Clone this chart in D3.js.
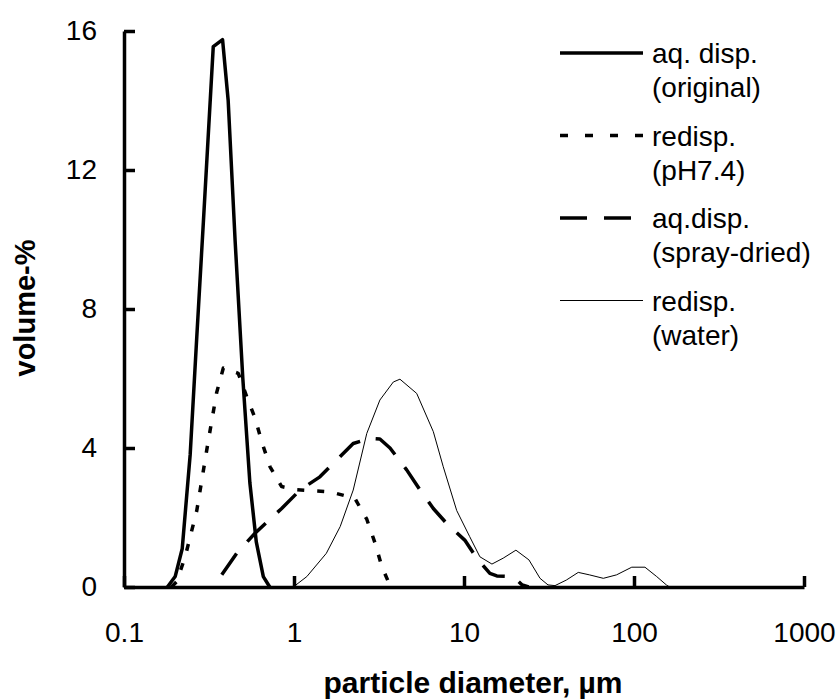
<!DOCTYPE html>
<html>
<head>
	<meta charset="utf-8">
	<title>Particle size distribution</title>
	<script src="https://cdn.jsdelivr.net/npm/d3@7"></script>
	<style>
		body { margin: 0; background: #fff; font-family: Arial, "Liberation Sans", Helvetica, sans-serif; }
	</style>
</head>
<body>
	<div id="chart"></div>
	<script>

	// data
	const origX  = [0.18, 0.2, 0.22, 0.245, 0.268, 0.293, 0.335, 0.38, 0.41, 0.45, 0.5, 0.55, 0.6, 0.66, 0.72];
	const origY  = [0, 0.3, 1.1, 3.8, 7.2, 10.5, 15.55, 15.75, 14.0, 10.0, 6.0, 3.0, 1.3, 0.3, 0];

	const phX    = [0.19, 0.204, 0.229, 0.268, 0.313, 0.351, 0.384, 0.47, 0.527, 0.59, 0.646, 0.723, 0.846, 1.04, 1.63, 2.28, 2.68, 3.0, 3.28, 3.7];
	const phY    = [0, 0.15, 0.87, 2.2, 4.2, 5.6, 6.3, 6.15, 5.48, 4.86, 4.18, 3.46, 2.89, 2.8, 2.74, 2.55, 1.95, 1.26, 0.6, 0];

	const sprayX = [0.376, 0.46, 0.59, 0.846, 1.085, 1.42, 1.78, 2.23, 2.8, 3.2, 3.67, 4.6, 5.5, 6.6, 7.9, 10.1, 11.9, 14.2, 15.6, 19.5, 22, 24];
	const sprayY = [0.35, 0.97, 1.55, 2.26, 2.79, 3.17, 3.65, 4.13, 4.28, 4.26, 4.0, 3.37, 2.8, 2.26, 1.83, 1.35, 0.83, 0.39, 0.32, 0.3, 0.06, 0];

	const waterX = [0.99, 1.19, 1.55, 1.87, 2.23, 2.68, 3.2, 3.84, 4.2, 5.27, 6.6, 7.55, 9.06, 10.8, 12.4, 14.6, 17.0, 20.2, 24.1, 28, 31.2, 34.3, 40, 47, 54.6, 66, 79, 97, 116, 136, 155, 162];
	const waterY = [0, 0.3, 0.97, 1.74, 2.79, 4.42, 5.38, 5.9, 5.98, 5.57, 4.47, 3.46, 2.2, 1.45, 0.87, 0.66, 0.83, 1.06, 0.78, 0.25, 0.06, 0.04, 0.2, 0.42, 0.35, 0.25, 0.35, 0.57, 0.57, 0.3, 0.06, 0];

	const seriesNames = [["aq. disp.", "(original)"], ["redisp.", "(pH7.4)"], ["aq.disp.", "(spray-dried)"], ["redisp.", "(water)"]];
	const xTicks      = [0.1, 1, 10, 100, 1000];
	const xTickLabels = ["0.1", "1", "10", "100", "1000"];
	const yTicks      = [0, 4, 8, 12, 16];
	const xTitle      = "particle diameter, \u00b5m";
	const yTitle      = "volume-%";

	// styling
	const width  = 838;
	const height = 700;
	const font   = "Arial, 'Liberation Sans', sans-serif";
	const styles = [
		{ width: 3.5, dash: null,    legendDash: null },
		{ width: 3.5, dash: "7,13",  legendDash: "8,17" },
		{ width: 3.5, dash: "26,16", legendDash: "27,17" },
		{ width: 1,   dash: null,    legendDash: null }
	];

	const series = [
		d3.zip(origX, origY),
		d3.zip(phX, phY),
		d3.zip(sprayX, sprayY),
		d3.zip(waterX, waterY)
	];

	const x = d3.scaleLog().domain([0.1, 1000]).range([124, 804]);
	const y = d3.scaleLinear().domain([0, 16]).range([587, 31]);

	const svg = d3.select("#chart").append("svg")
		.attr("width", width)
		.attr("height", height)
		.attr("viewBox", [0, 0, width, height])
		.style("font-family", font);

	const xAxis = d3.axisBottom(x)
		.tickValues(xTicks)
		.tickFormat((d, i) => xTickLabels[i])
		.tickSizeInner(-11)
		.tickSizeOuter(0)
		.tickPadding(35);

	const yAxis = d3.axisLeft(y)
		.tickValues(yTicks)
		.tickSizeInner(-11)
		.tickSizeOuter(0)
		.tickPadding(27);

	svg.append("g")
		.attr("transform", `translate(0,${y(0)})`)
		.call(xAxis)
		.call(g => g.selectAll("path, line").attr("stroke", "#000").attr("stroke-width", 3.5))
		.call(g => g.selectAll("text").attr("fill", "#000")
			.style("font-size", "28px").style("font-family", font));

	svg.append("g")
		.attr("transform", `translate(${x(0.1)},0)`)
		.call(yAxis)
		.call(g => g.selectAll("path, line").attr("stroke", "#000").attr("stroke-width", 3.5))
		.call(g => g.selectAll("text").attr("fill", "#000")
			.style("font-size", "28px").style("font-family", font));

	const line = d3.line()
		.x(d => x(d[0]))
		.y(d => y(d[1]));

	svg.append("g")
		.selectAll("path")
		.data(series)
		.join("path")
		.attr("fill", "none")
		.attr("stroke", "#000")
		.attr("stroke-width", (d, i) => styles[i].width)
		.attr("stroke-dasharray", (d, i) => styles[i].dash)
		.attr("stroke-linejoin", "round")
		.attr("d", line);

	// axis titles
	svg.append("text")
		.attr("x", 473)
		.attr("y", 693)
		.attr("text-anchor", "middle")
		.style("font-size", "30px")
		.style("font-weight", "bold")
		.text(xTitle);

	svg.append("text")
		.attr("transform", `translate(35,308) rotate(-90)`)
		.attr("text-anchor", "middle")
		.style("font-size", "29px")
		.style("font-weight", "bold")
		.text(yTitle);

	// legend
	const legend = svg.append("g")
		.selectAll("g")
		.data(seriesNames)
		.join("g")
		.attr("transform", (d, i) => `translate(560,${53 + i * 82.5})`);

	legend.append("line")
		.attr("x1", 0).attr("x2", 83)
		.attr("stroke", "#000")
		.attr("stroke-width", (d, i) => styles[i].width)
		.attr("stroke-dasharray", (d, i) => styles[i].legendDash);

	legend.append("text")
		.attr("y", 10)
		.style("font-size", "28px")
		.selectAll("tspan")
		.data(d => d)
		.join("tspan")
		.attr("x", 92)
		.attr("dy", (d, i) => i ? 34 : 0)
		.text(d => d);

	</script>
</body>
</html>
